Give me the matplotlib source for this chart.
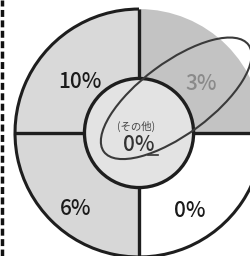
import numpy as np
import matplotlib
matplotlib.use("Agg")
import matplotlib.pyplot as plt
from matplotlib.patches import Ellipse, Circle, Arc

plt.rcParams['font.family'] = ['Noto Sans CJK JP', 'DejaVu Sans']

# quadrant values (top-right, top-left, bottom-left, bottom-right)
values = [3, 10, 6, 0]
colors = ['#c3c3c3', '#d9d9d9', '#d7d7d7', '#ffffff']
text_colors = ['#8a8a8a', '#1a1a1a', '#1a1a1a', '#1a1a1a']
center_name = '(その他)'
center_value = 0

# label placement (radius, angle in degrees)
label_pos = [(0.64, 38), (0.63, 139), (0.80, 230), (0.75, 303)]

fig = plt.figure(figsize=(2.51, 2.56), dpi=100)
ax = fig.add_axes([0, 0, 1, 1])

R = 1.0
r_in = 0.44
line = '#1e1e1e'

# quadrants drawn as equal slices
wedges, _ = ax.pie([1] * len(values), colors=colors, startangle=0,
                   counterclock=True, radius=R, center=(0, 0),
                   wedgeprops=dict(linewidth=0), frame=True)
ax.set_xlim(-1.121, 0.903)
ax.set_ylim(-0.992, 1.073)
ax.set_aspect('auto')
ax.axis('off')

# outer border (not on the grey top-right quadrant)
ax.add_patch(Arc((0, 0), 2 * R, 2 * R, theta1=90, theta2=360,
                 color=line, lw=2.2, zorder=3))
# dividers
for ang in [0, 90, 180, 270]:
    a = np.radians(ang)
    ax.plot([r_in * np.cos(a), R * np.cos(a)], [r_in * np.sin(a), R * np.sin(a)],
            color=line, lw=2.4, zorder=3, solid_capstyle='butt')

# centre disc
ax.add_patch(Circle((0, 0), r_in, facecolor='#e3e3e3', edgecolor=line, lw=2.4, zorder=4))

for v, (rr, ang), tc in zip(values, label_pos, text_colors):
    a = np.radians(ang)
    ax.text(rr * np.cos(a), rr * np.sin(a), f'{v}%', ha='center', va='center',
            fontsize=15, fontweight='medium', color=tc, zorder=5)

ax.text(-0.02, 0.05, center_name, ha='center', va='center', fontsize=7.5,
        color='#444444', zorder=5)
ax.text(0.0, -0.10, f'{center_value}%', ha='center', va='center', fontsize=15,
        fontweight='medium', color='#333333', zorder=5)
ax.plot([0.07, 0.15], [-0.175, -0.175], color='#333333', lw=1.2, zorder=5)

# hand drawn ellipse
ax.add_patch(Ellipse((0.30, 0.28), 1.45, 0.58, angle=36.5, fill=False,
                     edgecolor='#3a3a3a', lw=1.5, zorder=6))

# scan border on the left edge
ax.plot([-1.108, -1.108], [-0.992, 1.073], color='#111111', lw=2.5,
        linestyle=(0, (2, 1)), zorder=7)

fig.savefig('out.png', dpi=100)
